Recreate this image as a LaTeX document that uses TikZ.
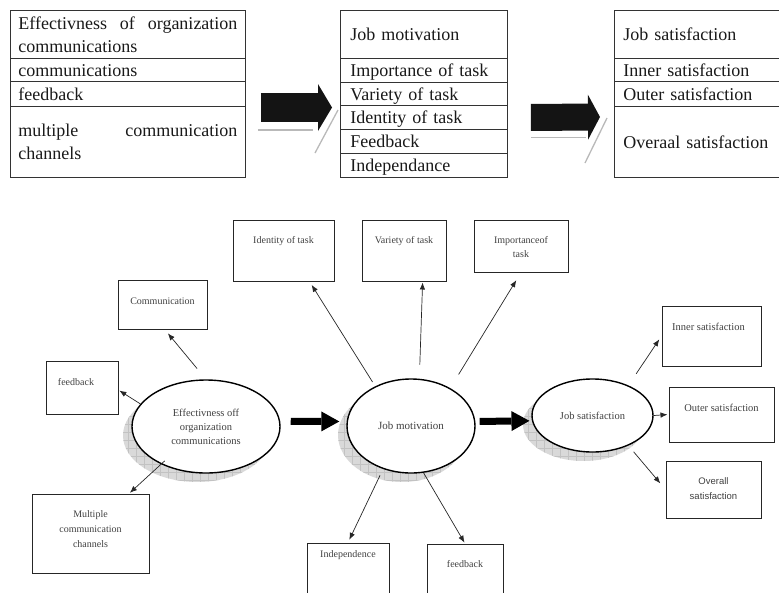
\documentclass[tikz,border=0pt]{standalone}
\usepackage{fontspec}
\setmainfont{Liberation Serif}
\newfontfamily\labelsans{Liberation Sans}
\usetikzlibrary{shapes.geometric,arrows.meta,calc,backgrounds}
\hyphenpenalty=10000
\exhyphenpenalty=10000

\tikzset{
  cell/.style={draw=black!80, line width=0.9pt, anchor=north west, inner ysep=0pt,
    font=\fontsize{18}{23}\selectfont, text=black!90},
  oneline/.style={text height=15pt, text depth=2.5pt},
  cellA/.style={cell, inner xsep=8pt, text width=219pt, align=justify},
  cellB/.style={cell, inner xsep=10pt, text width=147pt, align=left},
  cellC/.style={cell, inner xsep=9pt, text width=150pt, align=left},
  box/.style={draw=black!85, line width=1pt, inner sep=0pt},
  lbl/.style={inner sep=0pt, align=center, text=black!75, font=\fontsize{10}{14}\selectfont},
  ell/.style={ellipse, draw=black, line width=1.4pt, fill=white, inner sep=0pt,
    align=center, text=black!75, font=\fontsize{10.5}{14}\selectfont},
  conn/.style={draw=black!85, line width=0.7pt, -{Latex[length=7pt,width=5.5pt]}},
  fat/.style={draw=black, line width=7pt, -{Triangle[length=18pt,width=20pt,line width=0pt]}},
  bigA/.style={draw=black!92, line width=29pt, -{Triangle[length=14pt,width=47pt,line width=0pt]}},
  bigB/.style={draw=black!92, line width=27pt, -{Triangle[length=12pt,width=45pt,line width=0pt]}},
  bevel/.style={draw=gray!55, line width=1.3pt},
}

% grey hatched drop shadow under an ellipse node: name, x radius, y radius
\newcommand\ellshadow[3]{%
  \begin{scope}[on background layer]
    \begin{scope}
      \clip ($(#1.center)+(-9,9)$) ellipse [x radius=#2, y radius=#3];
      \fill[gray!30] ($(#1.center)+(-9-#2,9-#3)$) rectangle ($(#1.center)+(-9+#2,9+#3)$);
      \draw[gray!48, line width=0.35pt, step=8pt] ($(#1.center)+(-9-#2,9-#3)$) grid ($(#1.center)+(-9+#2,9+#3)$);
    \end{scope}
  \end{scope}}

\begin{document}
\begin{tikzpicture}[x=1pt,y=-1pt]
\useasboundingbox (0,0) rectangle (779,592);

% ---------- summary tables ----------
\node[cellA, minimum height=48pt] (a1) at (10,10) {Effectivness of organization communications};
\node[cellA, oneline, minimum height=23pt] (a2) at (10,58) {communications};
\node[cellA, oneline, minimum height=25pt] (a3) at (10,81) {feedback};
\node[cellA, minimum height=71pt] (a4) at (10,106) {multiple communication channels};

\node[cellB, oneline, minimum height=48pt] (b1) at (340,10) {Job motivation};
\node[cellB, oneline, minimum height=24pt] (b2) at (340,58) {Importance of task};
\node[cellB, oneline, minimum height=23pt] (b3) at (340,82) {Variety of task};
\node[cellB, oneline, minimum height=24pt] (b4) at (340,105) {Identity of task};
\node[cellB, oneline, minimum height=24pt] (b5) at (340,129) {Feedback};
\node[cellB, oneline, minimum height=24pt] (b6) at (340,153) {Independance};

\node[cellC, oneline, minimum height=48pt] (c1) at (614,10) {Job satisfaction};
\node[cellC, oneline, minimum height=23pt] (c2) at (614,58) {Inner satisfaction};
\node[cellC, oneline, minimum height=25pt] (c3) at (614,81) {Outer satisfaction};
\node[cellC, oneline, minimum height=71pt] (c4) at (614,106) {Overaal satisfaction};

% block arrows between the tables, with their grey bevel edges
\draw[bevel] ($(a4.north east)+(12,24)$) -- ($(a4.north east)+(67,24)$);
\draw[bevel] ($(b4.north west)+(-2,5)$) -- ($(b4.north west)+(-25,48)$);
\draw[bigA] ($(a4.north east)+(15,1.5)$) -- ($(b4.north west)+(-8,2.5)$);

\draw[bevel] ($(b4.east)+(23,20)$) -- ($(b4.east)+(78,20)$);
\draw[bevel] ($(c4.north west)+(-7,12)$) -- ($(c4.north west)+(-29,57)$);
\draw[bigB] ($(b4.east)+(23,0)$) -- ($(c4.north west)+(-14,11)$);

% ---------- model diagram ----------
\node[ell, minimum width=148pt, minimum height=93pt] (e1) at (206,426.5)
  {Effectivness off\\organization\\communications};
\node[ell, minimum width=128pt, minimum height=94pt, font=\fontsize{11}{14}\selectfont] (e2) at (411,426) {Job motivation};
\node[ell, minimum width=121pt, minimum height=73pt] (e3) at (592.5,415.5) {Job satisfaction};
\ellshadow{e1}{74}{46.5}
\ellshadow{e2}{64}{47}
\ellshadow{e3}{60.5}{36.5}

\node[box, minimum width=89pt, minimum height=49pt] (comm) at (162.5,304.5) {};
\node[box, minimum width=72pt, minimum height=53pt] (fbL) at (82,387.5) {};
\node[box, minimum width=117pt, minimum height=79pt] (mult) at (90.5,533.5) {};
\node[box, minimum width=101pt, minimum height=61pt] (ident) at (283.5,250.5) {};
\node[box, minimum width=84pt, minimum height=61pt] (vari) at (404,250.5) {};
\node[box, minimum width=94pt, minimum height=52pt] (impo) at (521,246) {};
\node[box, minimum width=82pt, minimum height=60pt] (indep) at (348,573) {};
\node[box, minimum width=76pt, minimum height=60pt] (fbB) at (465,574) {};
\node[box, minimum width=99pt, minimum height=60pt] (inner) at (711.5,336) {};
\node[box, minimum width=105pt, minimum height=55pt] (outer) at (721.5,414.5) {};
\node[box, minimum width=95pt, minimum height=57pt] (overall) at (713.5,489.5) {};

\node[lbl] at ($(comm.north)+(0,22)$) {Communication};
\node[lbl] at ($(fbL.north)+(-6,22)$) {feedback};
\node[lbl, font=\fontsize{10}{15}\selectfont] at ($(mult.north)+(0,36)$) {Multiple\\communication\\channels};
\node[lbl] at ($(ident.north)+(0,22)$) {Identity of task};
\node[lbl] at ($(vari.north)+(0,22)$) {Variety of task};
\node[lbl] at ($(impo.north)+(0,28)$) {Importanceof\\task};
\node[lbl] at ($(indep.north)+(0,13)$) {Independence};
\node[lbl] at ($(fbB.north)+(0,21)$) {feedback};
\node[lbl, font=\fontsize{10.5}{14}\selectfont] at ($(inner.north)+(-3,21)$) {Inner satisfaction};
\node[lbl, font=\fontsize{10.5}{14}\selectfont] at ($(outer.north)+(0,21)$) {Outer satisfaction};
\node[lbl, font=\labelsans\fontsize{9.5}{15}\selectfont] at ($(overall.north)+(0,28)$) {Overall\\satisfaction};

% thin connectors
\draw[conn, shorten <=14pt, shorten >=5pt] (e1.north) -- (comm.-85);
\draw[conn, shorten >=1pt] (e1.161) -- (fbL.-4);
\draw[conn, shorten <=-5pt, shorten >=1pt] (e1.220) -- (mult.46.5);
\draw[conn, shorten <=5pt, shorten >=4pt] (e2.132) -- (ident.-50);
\draw[conn, shorten <=14pt, shorten >=1pt] (e2.80) -- (vari.-59);
\draw[conn, shorten <=16pt, shorten >=9pt] (e2.44) -- (impo.south);
\draw[conn, shorten <=7pt, shorten >=3pt] (e2.237) -- (indep.north);
\draw[conn, shorten >=1pt] (e2.-75) -- (fbB.north);
\draw[conn, shorten <=14pt, shorten >=4pt] (e3.40) -- (inner.west);
\draw[conn, shorten >=1pt] (e3.east) -- (outer.west);
\draw[conn, shorten <=8pt, shorten >=8pt] (e3.-40) -- (overall.west);

% heavy arrows between the constructs
\draw[fat, shorten <=10.5pt, shorten >=7.3pt] (e1.4) -- (e2.176);
\draw[fat, shorten <=4.3pt, shorten >=2.5pt] (e2.4) -- (e3.185);
\end{tikzpicture}
\end{document}
